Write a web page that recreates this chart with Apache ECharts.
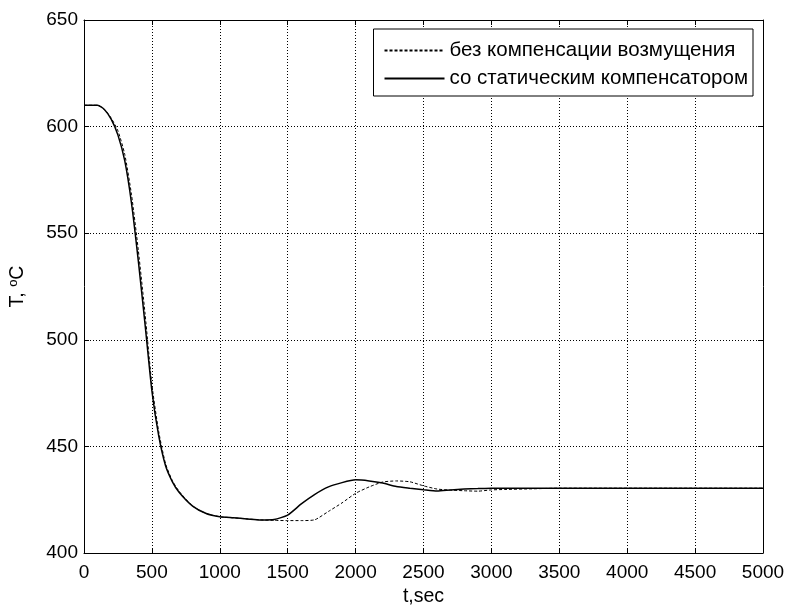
<!DOCTYPE html>
<html>
<head>
<meta charset="utf-8">
<script src="https://cdn.jsdelivr.net/npm/echarts@6/dist/echarts.min.js"></script>
<style>
  html,body{margin:0;padding:0;background:#fff;}
  #main{width:786px;height:606px;}
</style>
</head>
<body>
<div id="main"></div>
<script>
// time, sec
var tSolid = [0,100,150,200,250,300,350,400,450,500,550,600,650,700,800,900,1000,1100,1200,1300,1400,1500,1600,1700,1800,1900,2000,2100,2200,2300,2400,2500,2600,2700,2800,2900,3000,3500,4000,5000];
var vSolid = [610,610,608,603.5,596,584,564,537,507,476,455,441,433.5,428.5,422,418.5,417,416.5,416,415.5,415.7,417.8,423,427.5,431,433,434.3,433.8,432.8,431.2,430.4,429.7,429.1,429.6,430,430.2,430.4,430.4,430.4,430.4];
var tDashed = [0,100,150,200,250,300,350,400,450,500,550,600,650,700,800,900,1000,1100,1200,1300,1400,1500,1600,1700,1800,1900,2000,2100,2200,2300,2400,2500,2600,2700,2800,2900,3000,3100,3300,3500,5000];
var vDashed = [610,610,608,604,598,587,568,542,512,479,457,442,434,429,422,418.5,417,416.5,416,415.5,415.3,415.2,415.2,415.6,419.5,423.5,428,431,433.3,433.8,433.4,431.5,430,429.5,429.2,429,429.6,429.8,430.1,430.4,430.4];
var names = ['без компенсации возмущения','со статическим компенсатором'];

function pairs(t, v){
	var out = [];
	for(var i = 0;i < t.length;i ++){
		out.push([t[i], v[i]]);
	}
	return out;
}

var font = 'Liberation Sans, Arial, sans-serif';
var gridLine = {show:true, lineStyle:{color:'#000', type:[1,2], width:1}};
var frameLine = {show:true, onZero:false, lineStyle:{color:'#000', width:1}};

var mychart = echarts.init(document.getElementById('main'));
mychart.setOption({
	animation:false,
	backgroundColor:'#fff',
	textStyle:{fontFamily:font},
	grid:{left:84, right:23, top:20, bottom:53, containLabel:false, outerBoundsMode:'none'},
	legend:{
		orient:'vertical',
		right:33,
		top:29,
		padding:[11,5,7,10],
		itemGap:7,
		itemWidth:60,
		itemHeight:12,
		borderColor:'#000',
		borderWidth:1,
		borderRadius:0,
		backgroundColor:'#fff',
		itemStyle:{opacity:0},
		textStyle:{fontFamily:font, fontSize:20.5, color:'#000'},
		data:names
	},
	xAxis:[{
		type:'value', min:0, max:5000, interval:500,
		name:'t,sec', nameLocation:'middle', nameGap:34,
		nameTextStyle:{fontFamily:font, fontSize:19.5, color:'#000'},
		axisLine:frameLine,
		axisTick:{show:true, inside:true, length:5, lineStyle:{color:'#000'}},
		axisLabel:{fontFamily:font, fontSize:19, color:'#000', margin:10,
			formatter:function(v){ return String(v); }},
		splitLine:gridLine
	},{
		type:'value', min:0, max:5000, interval:500, position:'top',
		axisLine:frameLine,
		axisTick:{show:true, inside:true, length:5, lineStyle:{color:'#000'}},
		axisLabel:{show:false},
		splitLine:{show:false}
	}],
	yAxis:[{
		type:'value', min:400, max:650, interval:50,
		name:'T, {sup|o}C', nameLocation:'middle', nameGap:56,
		nameTextStyle:{fontFamily:font, fontSize:19.5, color:'#000',
			rich:{sup:{fontFamily:font, fontSize:13, color:'#000', verticalAlign:'top', padding:[0,0,8,0]}}},
		axisLine:frameLine,
		axisTick:{show:true, inside:true, length:5, lineStyle:{color:'#000'}},
		axisLabel:{fontFamily:font, fontSize:19, color:'#000', margin:6},
		splitLine:gridLine
	},{
		type:'value', min:400, max:650, interval:50, position:'right',
		axisLine:frameLine,
		axisTick:{show:true, inside:true, length:5, lineStyle:{color:'#000'}},
		axisLabel:{show:false},
		splitLine:{show:false}
	}],
	series:[{
		name:names[0],
		type:'line',
		symbol:'none',
		smooth:0.2,
		data:pairs(tDashed, vDashed),
		lineStyle:{color:'#000', width:1, type:[3,2]},
		itemStyle:{color:'#000'}
	},{
		name:names[1],
		type:'line',
		symbol:'none',
		smooth:0.2,
		data:pairs(tSolid, vSolid),
		lineStyle:{color:'#000', width:1.5, type:'solid'},
		itemStyle:{color:'#000'}
	}]
});
</script>
</body>
</html>
